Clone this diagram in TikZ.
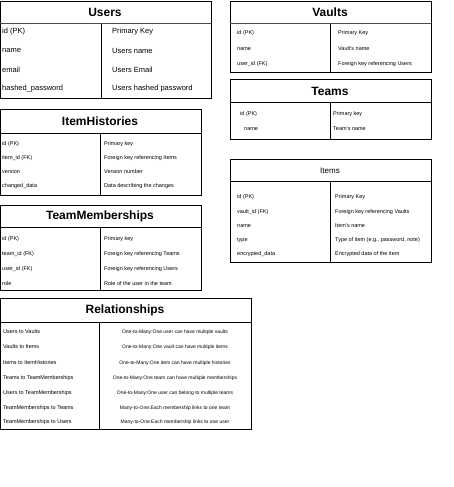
\documentclass[tikz,border=0pt]{standalone}
\usepackage{fontspec}
\setmainfont{Liberation Sans}
\usetikzlibrary{positioning}

\begin{document}
\begin{tikzpicture}[x=1pt,y=-1pt,
  tbl/.style={draw=black,line width=0.8pt},
  sep/.style={draw=black!70,line width=1pt},
  ttl/.style={inner sep=0pt,font=\bfseries\fontsize{12}{12}\selectfont},
  fldbig/.style={anchor=west,inner sep=0pt,font=\fontsize{7.5}{7.5}\selectfont},
  fld/.style={anchor=west,inner sep=0pt,font=\fontsize{5.5}{5.5}\selectfont},
  rel/.style={inner sep=0pt,font=\fontsize{5}{5}\selectfont}]
\useasboundingbox (0,0) rectangle (454,487);

% Users
\draw[tbl] (0,1) rectangle (211,98);
\draw[sep] (0,24) -- (211,24);
\draw[tbl] (101,24) -- (101,98);
\node[ttl] (users) at (105,12) {Users};
\foreach \y/\k/\d [count=\i] in {32/id (PK)/Primary Key, 51/name/Users name,
    70/email/Users Email, 89/hashed\_password/Users hashed password} {
  \node[fldbig] (users-k\i) at (2,\y) {\k};
  \node[fldbig] (users-d\i) at (112,\y) {\d};
}

% Vaults
\draw[tbl] (230,1) rectangle (431,72);
\draw[sep] (230,24) -- (431,24);
\draw[tbl] (330,24) -- (330,72);
\node[ttl] (vaults) at (330,12) {Vaults};
\foreach \y/\k/\d [count=\i] in {33/id (PK)/Primary Key, 49/name/Vault's name,
    64/user\_id (FK)/Foreign key referencing Users} {
  \node[fld] (vaults-k\i) at (237,\y) {\k};
  \node[fld] (vaults-d\i) at (338,\y) {\d};
}

% Teams
\draw[tbl] (230,79) rectangle (431,139);
\draw[tbl] (230,102) -- (431,102);
\draw[tbl] (330,102) -- (330,139);
\node[ttl] (teams) at (330,91) {Teams};
\node[fld] (teams-k1) at (240,114) {id (PK)};
\node[fld] (teams-d1) at (333,114) {Primary key};
\node[fld] (teams-k2) at (244,129) {name};
\node[fld] (teams-d2) at (333,129) {Team's name};

% Items
\draw[tbl] (230,159) rectangle (431,262);
\draw[tbl] (230,181) -- (431,181);
\draw[tbl] (330,181) -- (330,262);
\node[inner sep=0pt,font=\fontsize{8}{8}\selectfont] (items) at (330,171) {Items};
\foreach \y/\k/\d [count=\i] in {197/id (PK)/Primary Key,
    212/vault\_id (FK)/Foreign key referencing Vaults, 226/name/Item's name,
    240/type/{Type of item (e.g., password, note)},
    254/encrypted\_data/Encrypted data of the item} {
  \node[fld] (items-k\i) at (237,\y) {\k};
  \node[fld] (items-d\i) at (335,\y) {\d};
}

% ItemHistories
\draw[tbl] (0,109) rectangle (201,195);
\draw[tbl] (0,133) -- (201,133);
\draw[tbl] (100,133) -- (100,195);
\node[ttl] (hist) at (100,121) {ItemHistories};
\foreach \y/\k/\d [count=\i] in {144/id (PK)/Primary key,
    158/item\_id (FK)/Foreign key referencing Items, 172/version/Version number,
    186/changed\_data/Data describing the changes} {
  \node[fld] (hist-k\i) at (2,\y) {\k};
  \node[fld] (hist-d\i) at (104,\y) {\d};
}

% TeamMemberships
\draw[tbl] (0,205) rectangle (201,290);
\draw[tbl] (0,227) -- (201,227);
\draw[tbl] (100,227) -- (100,290);
\node[ttl] (memb) at (100,216) {TeamMemberships};
\foreach \y/\k/\d [count=\i] in {239/id (PK)/Primary key,
    254/team\_id (FK)/Foreign key referencing Teams,
    269/user\_id (FK)/Foreign key referencing Users,
    284/role/Role of the user in the team} {
  \node[fld] (memb-k\i) at (2,\y) {\k};
  \node[fld] (memb-d\i) at (104,\y) {\d};
}

% Relationships
\draw[tbl] (0,298) rectangle (251,429);
\draw[tbl] (0,322) -- (251,322);
\draw[tbl] (99,322) -- (99,429);
\node[ttl] (rels) at (125,310) {Relationships};
\foreach \y/\k/\d [count=\i] in {
    332/Users to Vaults/One-to-Many:One user can have multiple vaults,
    347/Vaults to Items/One-to-Many:One vault can have multiple items,
    363/Items to ItemHistories/One-to-Many:One item can have multiple histories,
    378/Teams to TeamMemberships/One-to-Many:One team can have multiple memberships,
    393/Users to TeamMemberships/One-to-Many:One user can belong to multiple teams,
    408/TeamMemberships to Teams/Many-to-One:Each membership links to one team,
    422/TeamMemberships to Users/Many-to-One:Each membership links to one user} {
  \node[fld] (rels-k\i) at (3,\y) {\k};
  \node[rel] (rels-d\i) at (175,\y) {\d};
}
\end{tikzpicture}
\end{document}
